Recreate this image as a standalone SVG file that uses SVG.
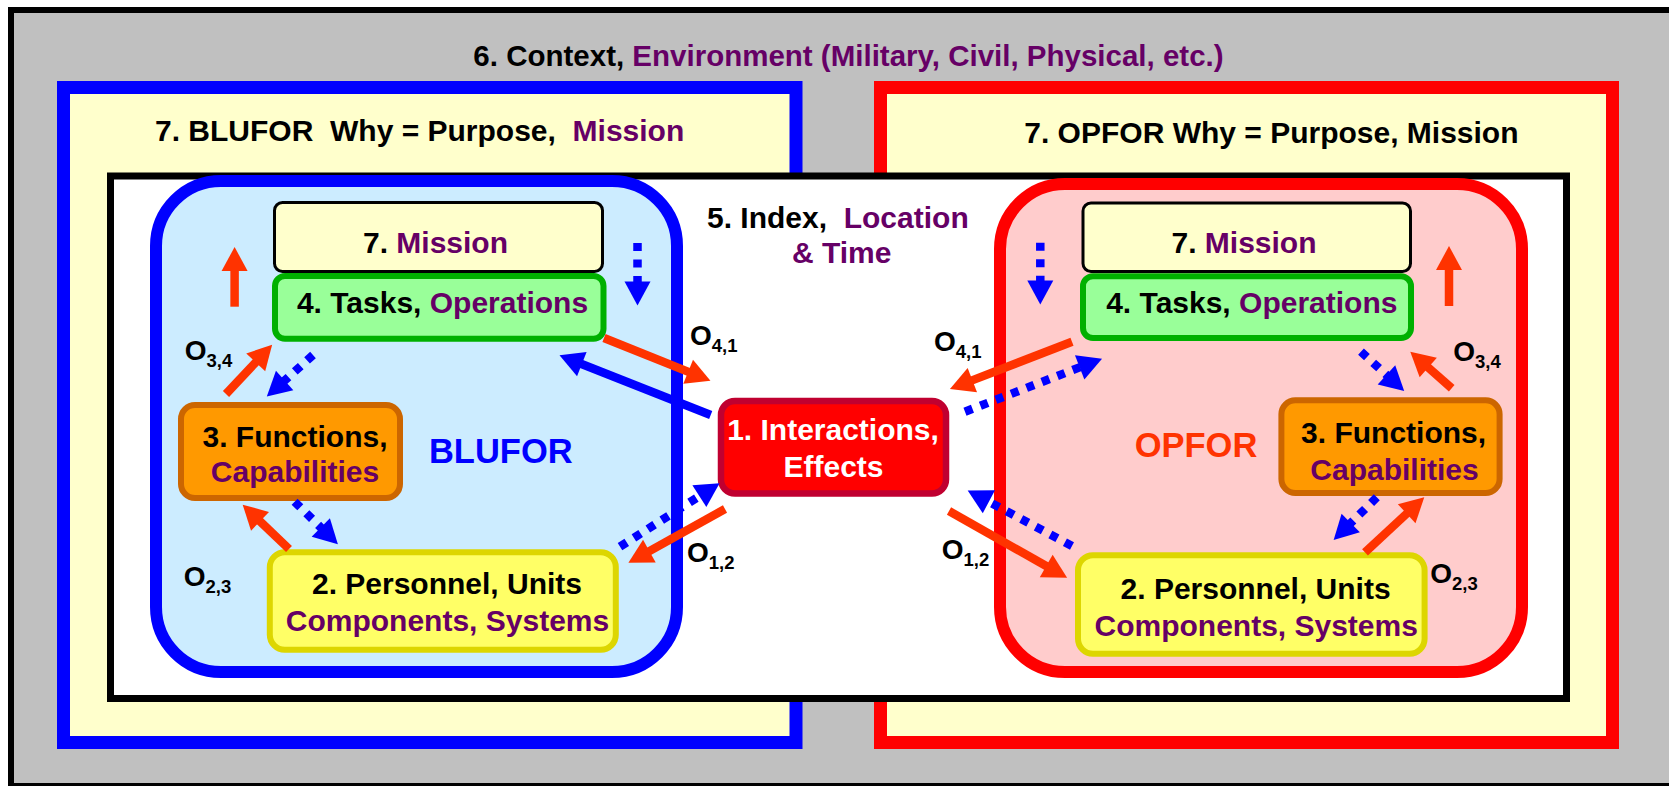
<svg xmlns="http://www.w3.org/2000/svg" width="1669" height="786" viewBox="0 0 1669 786">
<style>
text{font-family:"Liberation Sans",Arial,sans-serif;font-weight:bold;}
.t30{font-size:30px;fill:#000;}
.pu{fill:#660066;}
.o{font-size:28px;fill:#000;}
.sub{font-size:18.5px;}
.ora{fill:none;stroke:#FF3300;stroke-width:8.5;marker-end:url(#hO);}
.blu{fill:none;stroke:#0000FF;stroke-width:8.5;marker-end:url(#hB);}
.dot{fill:none;stroke:#0000FF;stroke-width:8.5;stroke-dasharray:8 8.5;marker-end:url(#hB);}
</style>
<defs>
<marker id="hO" markerUnits="userSpaceOnUse" markerWidth="26" markerHeight="28" viewBox="0 -14 26 28" refX="1" refY="0" orient="auto" overflow="visible"><path d="M0,-13 L24,0 L0,13 Z" fill="#FF3300"/></marker>
<marker id="hB" markerUnits="userSpaceOnUse" markerWidth="26" markerHeight="28" viewBox="0 -14 26 28" refX="1" refY="0" orient="auto" overflow="visible"><path d="M0,-13 L24,0 L0,13 Z" fill="#0000FF"/></marker>
</defs>

<g id="context">
<rect x="11" y="10" width="1700" height="776" fill="#C0C0C0" stroke="#000" stroke-width="6"/>
<text x="848.5" y="66" text-anchor="middle" style="font-size:29.5px">6. Context, <tspan class="pu">Environment (Military, Civil, Physical, etc.)</tspan></text>
</g>

<g id="blufor-purpose">
<rect x="63.5" y="87.5" width="732.5" height="655" fill="#FFFFCC" stroke="#0000FF" stroke-width="13"/>
<text x="155" y="141" class="t30" xml:space="preserve">7. BLUFOR  Why = Purpose,  <tspan class="pu">Mission</tspan></text>
</g>

<g id="opfor-purpose">
<rect x="880.5" y="87.5" width="732" height="655" fill="#FFFFCC" stroke="#FF0000" stroke-width="13"/>
<text x="1271.4" y="143" class="t30" text-anchor="middle">7. OPFOR Why = Purpose, Mission</text>
</g>

<g id="index">
<rect x="110.5" y="176" width="1456" height="522.5" fill="#FFFFFF" stroke="#000" stroke-width="7"/>
<text x="707" y="228" class="t30" xml:space="preserve">5. Index,  <tspan class="pu">Location</tspan></text>
<text x="792" y="263" class="t30 pu">&amp; Time</text>
</g>

<g id="blufor">
<rect x="156" y="181" width="521" height="491" rx="65" fill="#CCECFF" stroke="#0000FF" stroke-width="12"/>
<text x="500.8" y="462.7" text-anchor="middle" style="font-size:34.5px;fill:#0000FF">BLUFOR</text>
</g>

<g id="opfor">
<rect x="1000" y="184" width="522" height="488" rx="65" fill="#FFCCCC" stroke="#FF0000" stroke-width="12"/>
<text x="1196" y="456.7" text-anchor="middle" style="font-size:34.5px;fill:#FF3300">OPFOR</text>
</g>

<g id="b-mission">
<rect x="274.5" y="202.5" width="328" height="69" rx="8" fill="#FFFFCC" stroke="#000" stroke-width="3"/>
<text x="435.5" y="253" class="t30" text-anchor="middle">7. <tspan class="pu">Mission</tspan></text>
</g>
<g id="b-tasks">
<rect x="275" y="276" width="328.5" height="62.7" rx="10" fill="#99FF99" stroke="#00B000" stroke-width="6"/>
<text x="442.5" y="312.7" class="t30" text-anchor="middle">4. Tasks, <tspan class="pu">Operations</tspan></text>
</g>
<g id="b-functions">
<rect x="181" y="405" width="219" height="93" rx="14" fill="#FF9900" stroke="#CC6600" stroke-width="6"/>
<text x="295" y="447" class="t30" text-anchor="middle">3. Functions,</text>
<text x="295" y="482" class="t30 pu" text-anchor="middle">Capabilities</text>
</g>
<g id="b-personnel">
<rect x="269.8" y="552.3" width="346" height="97.4" rx="15" fill="#FFFF66" stroke="#DDD600" stroke-width="6"/>
<text x="447" y="594" class="t30" text-anchor="middle">2. Personnel, Units</text>
<text x="447.5" y="630.7" class="t30 pu" text-anchor="middle">Components, Systems</text>
</g>

<g id="interactions">
<rect x="721" y="401" width="225" height="92.5" rx="14" fill="#FF0000" stroke="#C00030" stroke-width="6.5"/>
<text x="833" y="440" class="t30" text-anchor="middle" style="fill:#FFFFFF">1. Interactions,</text>
<text x="833.5" y="476.7" class="t30" text-anchor="middle" style="fill:#FFFFFF">Effects</text>
</g>

<g id="o-mission">
<rect x="1083" y="203" width="327.5" height="68.5" rx="8" fill="#FFFFCC" stroke="#000" stroke-width="3"/>
<text x="1244" y="252.7" class="t30" text-anchor="middle">7. <tspan class="pu">Mission</tspan></text>
</g>
<g id="o-tasks">
<rect x="1083" y="276.3" width="328" height="61.7" rx="10" fill="#99FF99" stroke="#00B000" stroke-width="6"/>
<text x="1251.8" y="312.7" class="t30" text-anchor="middle">4. Tasks, <tspan class="pu">Operations</tspan></text>
</g>
<g id="o-functions">
<rect x="1281.4" y="400.3" width="218.2" height="92.7" rx="14" fill="#FF9900" stroke="#CC6600" stroke-width="6"/>
<text x="1393.6" y="443.3" class="t30" text-anchor="middle">3. Functions,</text>
<text x="1394.5" y="480" class="t30 pu" text-anchor="middle">Capabilities</text>
</g>
<g id="o-personnel">
<rect x="1078" y="555.3" width="346.6" height="98.4" rx="15" fill="#FFFF66" stroke="#DDD600" stroke-width="6"/>
<text x="1255.6" y="599.3" class="t30" text-anchor="middle">2. Personnel, Units</text>
<text x="1256.2" y="636" class="t30 pu" text-anchor="middle">Components, Systems</text>
</g>

<g id="connectors">
<line class="ora" x1="234.6" y1="306.7" x2="234.6" y2="270"/>
<line class="dot" x1="637.5" y1="243" x2="637.5" y2="282.5"/>
<line class="ora" x1="226" y1="394" x2="256.4" y2="361.6"/>
<line class="dot" x1="313" y1="355" x2="283.9" y2="381.2"/>
<line class="ora" x1="289" y1="549" x2="259.3" y2="520.6"/>
<line class="dot" x1="294.6" y1="501.7" x2="321.5" y2="528.2"/>
<line class="ora" x1="604" y1="338" x2="689.1" y2="372.1"/>
<line class="blu" x1="710.7" y1="415" x2="580.9" y2="363.8"/>
<line class="dot" x1="620" y1="546.7" x2="700.2" y2="495.6"/>
<line class="ora" x1="725" y1="509" x2="648.5" y2="551.6"/>

<line class="ora" x1="1449" y1="306" x2="1449" y2="269"/>
<line class="dot" x1="1040.3" y1="242.7" x2="1040.3" y2="281.5"/>
<line class="dot" x1="1361" y1="351.7" x2="1387.2" y2="375.6"/>
<line class="ora" x1="1451.7" y1="388.3" x2="1427.5" y2="366.9"/>
<line class="dot" x1="1376.8" y1="497.3" x2="1350" y2="523.8"/>
<line class="ora" x1="1365" y1="552.3" x2="1407.4" y2="513"/>
<line class="ora" x1="1072" y1="341.7" x2="971.4" y2="380.6"/>
<line class="dot" x1="965" y1="411.7" x2="1080.6" y2="367"/>
<line class="ora" x1="949" y1="511" x2="1047.1" y2="566.5"/>
<line class="dot" x1="1072" y1="546" x2="988" y2="501.3"/>
</g>

<g id="labels">
<text x="184.8" y="360" class="o">O<tspan class="sub" dy="7">3,4</tspan></text>
<text x="183.7" y="586" class="o">O<tspan class="sub" dy="7">2,3</tspan></text>
<text x="690" y="345" class="o">O<tspan class="sub" dy="7">4,1</tspan></text>
<text x="687" y="561.7" class="o">O<tspan class="sub" dy="7">1,2</tspan></text>
<text x="934" y="350.7" class="o">O<tspan class="sub" dy="7">4,1</tspan></text>
<text x="941.8" y="559" class="o">O<tspan class="sub" dy="7">1,2</tspan></text>
<text x="1453.3" y="360.7" class="o">O<tspan class="sub" dy="7">3,4</tspan></text>
<text x="1430.3" y="583.3" class="o">O<tspan class="sub" dy="7">2,3</tspan></text>
</g>
</svg>
